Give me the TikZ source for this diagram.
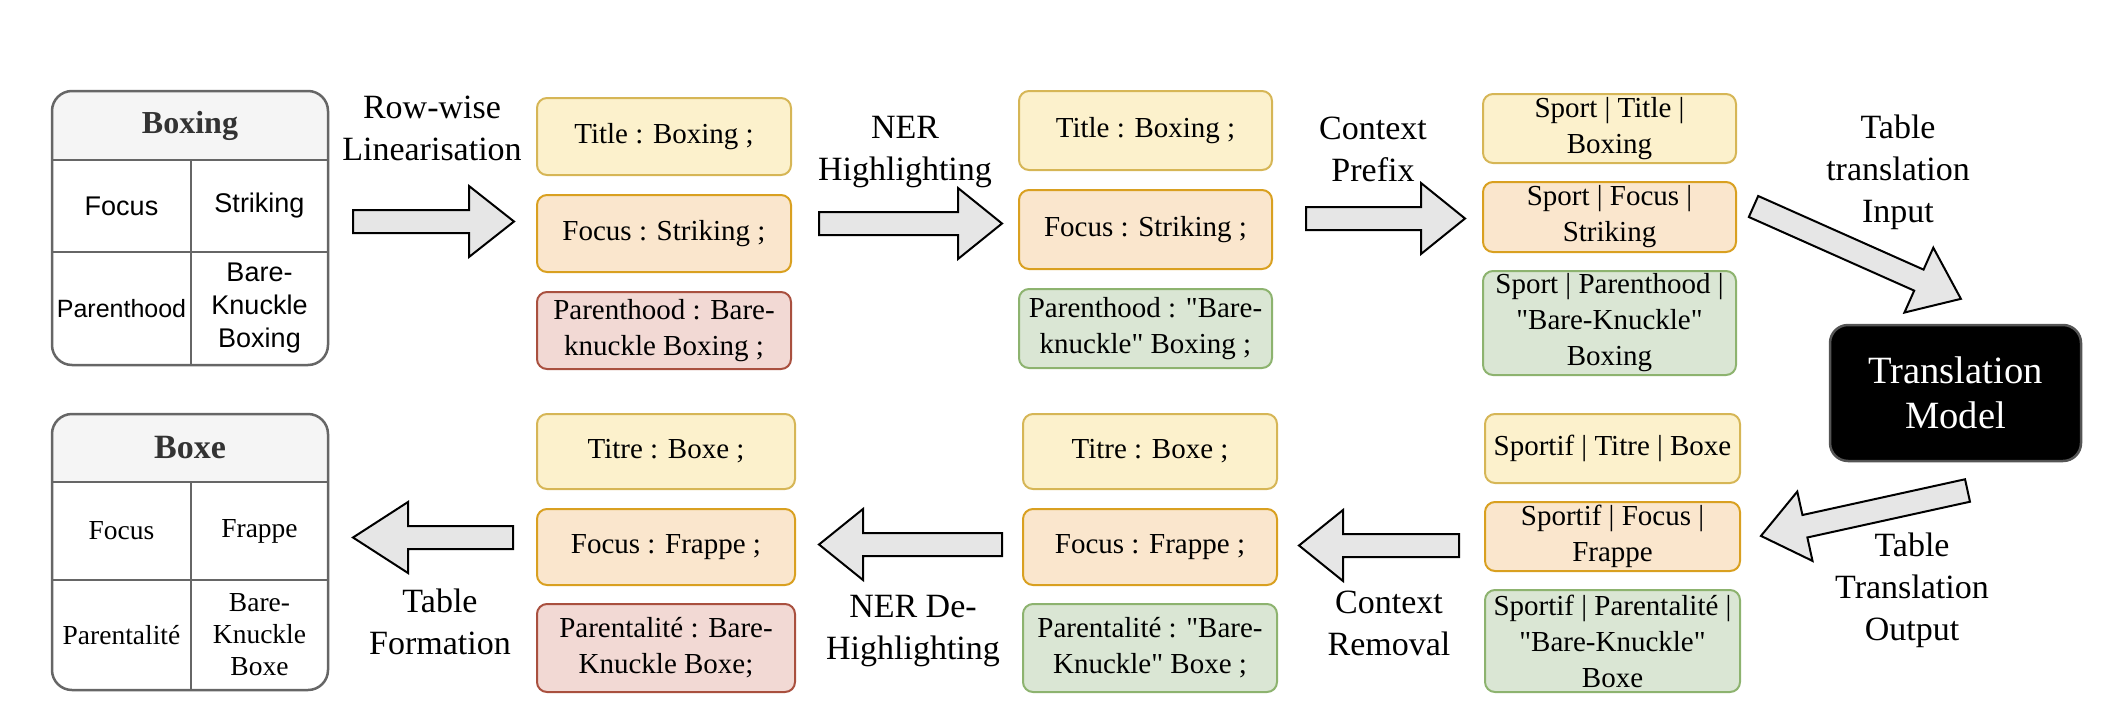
\documentclass[tikz,border=0pt]{standalone}
\usepackage{fontspec}
\defaultfontfeatures[\rmfamily,\sffamily]{}
\setmainfont{Liberation Serif}
\setsansfont{Liberation Sans}
\usetikzlibrary{positioning,calc}

\definecolor{ylwfill}{HTML}{FCF1CC}
\definecolor{ylwline}{HTML}{D6B656}
\definecolor{orgfill}{HTML}{FAE6CD}
\definecolor{orgline}{HTML}{D9A020}
\definecolor{redfill}{HTML}{F2D9D4}
\definecolor{redline}{HTML}{A9503F}
\definecolor{grnfill}{HTML}{DAE6D4}
\definecolor{grnline}{HTML}{8DB36F}
\definecolor{tblline}{HTML}{666666}
\definecolor{tblhead}{HTML}{F5F5F5}
\definecolor{hdrtext}{HTML}{333333}
\definecolor{arrfill}{HTML}{E6E6E6}
\definecolor{modelline}{HTML}{555555}

% block arrow: tail point, angle, length, head length
\newcommand{\fatarrow}[4]{%
	\begin{scope}[shift={#1}, rotate=#2]
		\draw[bigarrow] (0,-11.5) -- ({#3-#4},-11.5) -- ({#3-#4},-35.5) -- (#3,0)
			-- ({#3-#4},35.5) -- ({#3-#4},11.5) -- (0,11.5) -- cycle;
	\end{scope}}

\begin{document}
\begin{tikzpicture}[x=1pt, y=1pt,
				node distance=18pt,
				rowbox/.style={rectangle, rounded corners=10pt, line width=2pt, align=center, inner sep=0pt, minimum width=254pt, minimum height=77pt, font=\fontsize{29}{36}\selectfont},
				ybox/.style={rowbox, fill=ylwfill, draw=ylwline},
				obox/.style={rowbox, fill=orgfill, draw=orgline},
				rbox/.style={rowbox, fill=redfill, draw=redline},
				gbox/.style={rowbox, fill=grnfill, draw=grnline},
				lbl/.style={align=center, inner sep=0pt, font=\fontsize{34}{42}\selectfont},
				bigarrow/.style={draw=black, fill=arrfill, line width=2pt, line join=miter},
				tbl/.style={draw=tblline, line width=2.5pt},
				hdr/.style={inner sep=0pt, text=hdrtext, font=\bfseries\fontsize{32}{38}\selectfont},
				sanscell/.style={inner sep=0pt, align=center, font=\sffamily\fontsize{27}{33}\selectfont},
				sercell/.style={inner sep=0pt, align=center, font=\fontsize{27.5}{32}\selectfont},
				model/.style={rectangle, rounded corners=18pt, fill=black, draw=modelline, line width=2.5pt, text=white, align=center, minimum width=251pt, minimum height=136pt, inner sep=0pt, font=\fontsize{38.6}{45}\selectfont}
				]
				\useasboundingbox (0,0) rectangle (2122,-720);
				
				% input table
				\begin{scope}
					\clip[rounded corners=20pt] (52,-91) rectangle (328,-365);
					\fill[tblhead] (52,-91) rectangle (328,-160);
				\end{scope}
				\draw[tbl, rounded corners=20pt] (52,-91) rectangle (328,-365);
				\draw[tbl] (52,-160) -- (328,-160) (52,-252) -- (328,-252) (191,-160) -- (191,-365);
				\node[hdr] (inhead) at (190,-125.5) {Boxing};
				\node[sanscell] (infoc) at (121.5,-206) {Focus};
				\node[sanscell] (instr) at (259.5,-206) {Striking};
				\node[sanscell, font=\sffamily\fontsize{25}{30}\selectfont] (inpar) at (121.5,-308.5) {Parenthood};
				\node[sanscell] (inbkb) at (259.5,-308.5) {Bare-\\Knuckle\\Boxing};
				
				% linearised rows
				\node[ybox] (ttl1) at (664,-136.5) {Title : Boxing ;};
				\node[obox, below=of ttl1] (foc1) {Focus : Striking ;};
				\node[rbox, below=of foc1] (par1) {Parenthood : Bare-\\knuckle Boxing ;};
				
				% highlighted rows
				\node[ybox, minimum width=253pt, minimum height=79pt] (ttl2) at (1145.5,-130.5) {Title : Boxing ;};
				\node[obox, minimum width=253pt, minimum height=79pt, below=of ttl2] (foc2) {Focus : Striking ;};
				\node[gbox, minimum width=253pt, minimum height=79pt, below=of foc2] (par2) {Parenthood : "Bare-\\knuckle" Boxing ;};
				
				% prefixed rows
				\node[ybox, minimum width=253pt, minimum height=69pt] (sp1) at (1609.5,-128.5) {Sport | Title |\\Boxing};
				\node[obox, minimum width=253pt, minimum height=70pt, below=17pt of sp1] (sp2) {Sport | Focus |\\Striking};
				\node[gbox, minimum width=253pt, minimum height=104pt, below=17pt of sp2] (sp3) {Sport | Parenthood |\\"Bare-Knuckle"\\Boxing};
				
				\node[model] (trm) at (1955.5,-393) {Translation\\Model};
				
				% translated rows
				\node[ybox, minimum width=255pt, minimum height=69pt] (fr1) at (1612.5,-448.5) {Sportif | Titre | Boxe};
				\node[obox, minimum width=255pt, minimum height=69pt, below=17pt of fr1] (fr2) {Sportif | Focus |\\Frappe};
				\node[gbox, minimum width=255pt, minimum height=102pt, below=17pt of fr2] (fr3) {Sportif | Parentalité |\\"Bare-Knuckle"\\Boxe};
				
				% context removed
				\node[ybox, minimum height=75pt] (ti2) at (1150,-451.5) {Titre : Boxe ;};
				\node[obox, minimum height=76pt, below=of ti2] (fo2) {Focus : Frappe ;};
				\node[gbox, minimum height=88pt, below=17pt of fo2] (pa2) {Parentalité : "Bare-\\Knuckle" Boxe ;};
				
				% de-highlighted
				\node[ybox, minimum width=258pt, minimum height=75pt] (ti1) at (666,-451.5) {Titre : Boxe ;};
				\node[obox, minimum width=258pt, minimum height=76pt, below=of ti1] (fo1) {Focus : Frappe ;};
				\node[rbox, minimum width=258pt, minimum height=88pt, below=17pt of fo1] (pa1) {Parentalité : Bare-\\Knuckle Boxe;};
				
				% output table
				\begin{scope}
					\clip[rounded corners=20pt] (52,-414) rectangle (328,-690);
					\fill[tblhead] (52,-414) rectangle (328,-482);
				\end{scope}
				\draw[tbl, rounded corners=20pt] (52,-414) rectangle (328,-690);
				\draw[tbl] (52,-482) -- (328,-482) (52,-580) -- (328,-580) (191,-482) -- (191,-690);
				\node[hdr, font=\bfseries\fontsize{34}{40}\selectfont] (outhead) at (190,-448) {Boxe};
				\node[sercell] (outfoc) at (121.5,-531) {Focus};
				\node[sercell] (outfrp) at (259.5,-531) {Frappe};
				\node[sercell] (outpar) at (121.5,-635) {Parentalité};
				\node[sercell] (outbkb) at (259.5,-635) {Bare-\\Knuckle\\Boxe};
				
				% arrows
				\fatarrow{(353,-221.5)}{0}{161}{45}
				\fatarrow{(819,-223.5)}{0}{183}{44}
				\fatarrow{(1306,-218.5)}{0}{159}{44}
				\fatarrow{(1753.5,-206.5)}{-24}{227}{46}
				\fatarrow{(1967.5,-490.5)}{192.4}{211.5}{45}
				\fatarrow{(1459,-545.5)}{180}{160}{44}
				\fatarrow{(1002,-544.5)}{180}{183}{44}
				\fatarrow{(513,-537.5)}{180}{160}{55}
				
				\node[lbl] (linlbl) at (432,-128) {Row-wise\\Linearisation};
				\node[lbl] (nerlbl) at (905,-152) {NER\\Highlighting};
				\node[lbl] (ctxlbl) at (1373,-149) {Context\\Prefix};
				\node[lbl] (inlbl) at (1898,-172) {Table\\translation\\Input};
				\node[lbl] (outlbl) at (1912,-590) {Table\\Translation\\Output};
				\node[lbl] (ctxrlbl) at (1389,-623) {Context\\Removal};
				\node[lbl] (nerdlbl) at (913,-631) {NER De-\\Highlighting};
				\node[lbl] (formlbl) at (440,-622) {Table\\Formation};
			\end{tikzpicture}
\end{document}
